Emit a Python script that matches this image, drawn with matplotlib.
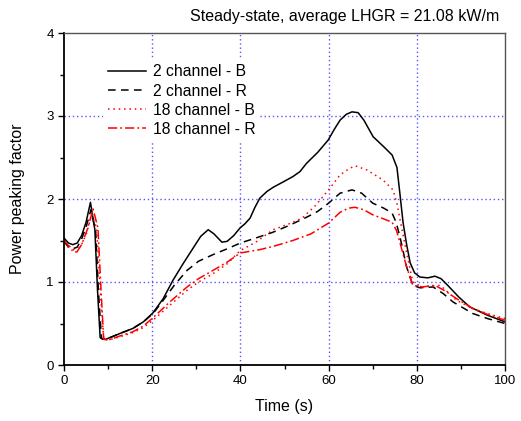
import matplotlib
matplotlib.use("Agg")
import matplotlib.pyplot as plt
import numpy as np
from matplotlib.ticker import MultipleLocator

plt.rcParams['font.family'] = ['Liberation Sans', 'DejaVu Sans']

# 2 channel - B (solid black)
t_2b = [0, 1, 2, 3, 4, 5, 6.0, 7.0, 7.6, 8.2, 8.8, 9.5, 12.7, 15.6, 18, 20.2, 22.5, 24.7, 27, 29.3, 31, 32.7, 34, 35.8, 37, 38.5, 39.9,
        41, 42.2, 43.3, 44.4, 46, 47.4, 49.5, 51.9, 53.5, 55, 57.5, 59.9, 61.3, 62.6, 64, 65.3, 66.7, 68, 70.1, 72.5, 74.4, 75.5, 76.2, 76.9, 77.7, 78.5, 79.5, 80.7, 82.5, 84.1, 85.5, 87, 89.5, 92, 96, 100]
v_2b = [1.53, 1.47, 1.45, 1.47, 1.56, 1.72, 1.96, 1.63, 0.9, 0.33, 0.31, 0.31, 0.38, 0.44, 0.52, 0.63, 0.8, 1.02, 1.22, 1.41, 1.55, 1.63, 1.58, 1.48, 1.49, 1.56, 1.65,
        1.70, 1.77, 1.90, 2.01, 2.09, 2.14, 2.20, 2.27, 2.33, 2.43, 2.56, 2.71, 2.84, 2.95, 3.02, 3.05, 3.04, 2.95, 2.75, 2.63, 2.53, 2.38, 2.05, 1.71, 1.45, 1.23, 1.11, 1.06, 1.05, 1.07, 1.04, 0.96, 0.82, 0.70, 0.60, 0.52]

# 2 channel - R (dashed black)
t_2r = [0, 1, 2, 3, 4, 5, 6.1, 7.2, 7.8, 8.5, 9.5, 12.7, 15.6, 18, 20.2, 22.5, 25, 27.9, 30.5, 33.8, 37, 40,
        43.5, 47.4, 51, 55, 57.5, 60, 62.6, 65.3, 67.5, 70, 72.5, 74.4, 75.3, 76.2, 77.7, 79.1, 80.7, 83.7, 86, 88.2, 92.7, 96, 100]
v_2r = [1.49, 1.42, 1.40, 1.42, 1.52, 1.66, 1.87, 1.6, 0.9, 0.32, 0.31, 0.38, 0.44, 0.52, 0.62, 0.78, 0.96, 1.14, 1.25, 1.33, 1.40, 1.47,
        1.53, 1.60, 1.68, 1.78, 1.85, 1.95, 2.07, 2.11, 2.07, 1.95, 1.89, 1.83, 1.72, 1.54, 1.18, 0.96, 0.93, 0.94, 0.86, 0.76, 0.62, 0.56, 0.50]

# 18 channel - B (dotted red)
t_18b = [0, 1, 2.5, 4, 5.2, 6.3, 7.4, 8.2, 9.0, 10, 12.7, 15.6, 18, 20.2, 24, 27.9, 30.5, 33.8, 37, 40,
         43.5, 47.4, 51, 54, 57, 60, 62.6, 64.5, 66, 68.7, 72.3, 74.6, 75.5, 76.2, 77.7, 79.1, 81.2, 83, 85.3, 87, 89, 92.7, 96, 100]
v_18b = [1.48, 1.42, 1.35, 1.45, 1.60, 1.82, 1.65, 0.9, 0.31, 0.30, 0.34, 0.39, 0.45, 0.54, 0.72, 0.90, 1.00, 1.10, 1.22, 1.38,
         1.48, 1.63, 1.70, 1.77, 1.92, 2.11, 2.29, 2.36, 2.40, 2.35, 2.23, 2.11, 1.95, 1.75, 1.35, 1.00, 0.94, 0.95, 0.96, 0.88, 0.78, 0.68, 0.62, 0.56]

# 18 channel - R (dash-dot red)
t_18r = [0, 1, 2.9, 4, 5.2, 6.6, 7.7, 8.4, 9.0, 10, 12.7, 15.6, 18, 20.2, 24, 27.9, 30.5, 33.8, 37, 40,
         44.4, 47.5, 51.9, 56, 60, 62.6, 64.5, 66, 68, 70, 72.5, 74.4, 75.4, 76.2, 77.7, 79.1, 81.2, 84.1, 86.5, 89, 92.7, 96, 100]
v_18r = [1.50, 1.44, 1.36, 1.45, 1.62, 1.88, 1.65, 0.9, 0.31, 0.30, 0.35, 0.40, 0.47, 0.57, 0.76, 0.94, 1.04, 1.14, 1.24, 1.35,
         1.39, 1.43, 1.50, 1.58, 1.71, 1.84, 1.89, 1.90, 1.87, 1.81, 1.76, 1.72, 1.62, 1.47, 1.18, 0.96, 0.94, 0.96, 0.89, 0.80, 0.68, 0.61, 0.54]

labels = ["2 channel - B", "2 channel - R", "18 channel - B", "18 channel - R"]
title = "Steady-state, average LHGR = 21.08 kW/m"

fig = plt.figure(figsize=(5.21, 4.21), dpi=100)
ax = fig.add_axes([64/521, 56/421, 441/521, 332/421])

grid_kw = dict(color='#5555ff', linestyle=(0, (1, 2)), linewidth=1.0)
for xv in [20, 40, 60, 80]:
    ax.axvline(xv, zorder=0, **grid_kw)
for yv in [1, 2, 3]:
    ax.axhline(yv, zorder=0, **grid_kw)

ax.plot(t_2b, v_2b, color='black', lw=1.1, ls='-', label=labels[0])
ax.plot(t_2r, v_2r, color='black', lw=1.1, ls=(0, (5, 3.5)), label=labels[1])
ax.plot(t_18b, v_18b, color='red', lw=1.1, ls=(0, (1, 2.5)), label=labels[2])
ax.plot(t_18r, v_18r, color='red', lw=1.1, ls=(0, (6, 2, 1.2, 2)), label=labels[3])

ax.set_xlim(0, 100)
ax.set_ylim(0, 4)
ax.xaxis.set_major_locator(MultipleLocator(20))
ax.xaxis.set_minor_locator(MultipleLocator(10))
ax.yaxis.set_major_locator(MultipleLocator(1))
ax.yaxis.set_minor_locator(MultipleLocator(0.5))
ax.tick_params(which='both', direction='out', top=False, right=False, labelsize=9.5, width=1)
ax.tick_params(which='major', length=4)
ax.tick_params(which='minor', length=3)
for s in ['left', 'bottom']:
    ax.spines[s].set_linewidth(1.3)
for s in ['top', 'right']:
    ax.spines[s].set_linewidth(1.0)
    ax.spines[s].set_color('#555555')

ax.set_xlabel("Time (s)", fontsize=11.5, labelpad=8)
ax.set_ylabel("Power peaking factor", fontsize=11.5, labelpad=15)
fig.text(499/521, 1 - 17/421, title, ha='right', va='center', fontsize=11.5)

leg = ax.legend(loc='upper left', bbox_to_anchor=(0.089, 0.92), borderaxespad=0, frameon=True, fontsize=11.3,
                handlelength=2.4, handletextpad=0.45, labelspacing=0.27, borderpad=0.3)
leg.get_frame().set_edgecolor('none')
leg.get_frame().set_facecolor('white')
leg.get_frame().set_alpha(1)

fig.savefig("out.png", dpi=100)
